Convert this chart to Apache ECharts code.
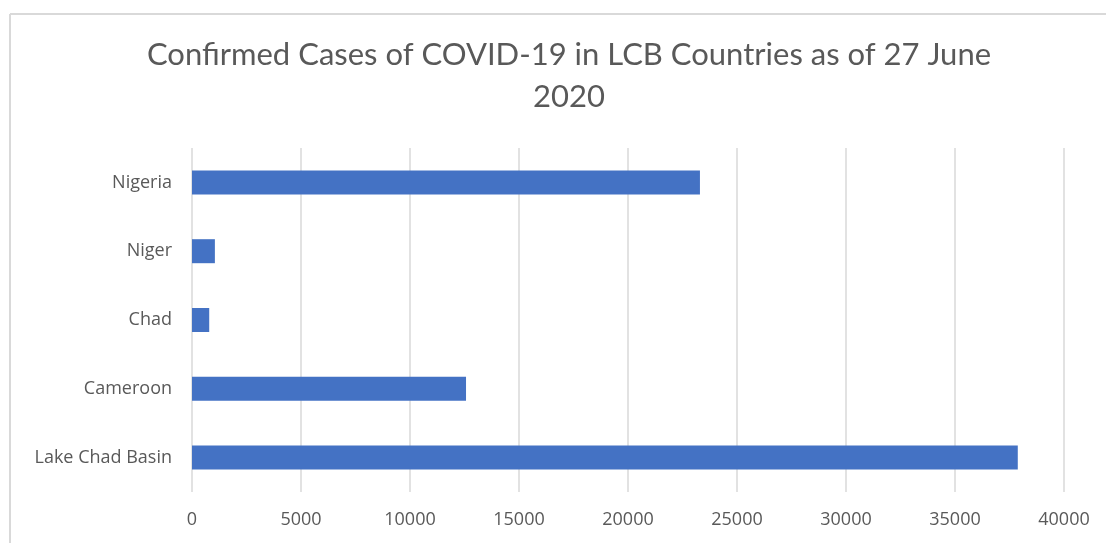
<!DOCTYPE html>
<html>
<head>
<meta charset="utf-8">
<script src="https://cdn.jsdelivr.net/npm/echarts@6/dist/echarts.min.js"></script>
<style>
html,body{margin:0;padding:0;background:#fff;}
#chart{width:1106px;height:543px;}
</style>
</head>
<body>
<div id="chart"></div>
<script>
const titleText = 'Confirmed Cases of COVID-19 in LCB Countries as of 27 June\n2020';
const categories = ['Lake Chad Basin', 'Cameroon', 'Chad', 'Niger', 'Nigeria'];
const cases = [37880, 12570, 790, 1050, 23300];
const xTicks = [0, 5000, 10000, 15000, 20000, 25000, 30000, 35000, 40000];

const chart = echarts.init(document.getElementById('chart'));
chart.setOption({
  animation: false,
  backgroundColor: '#ffffff',
  graphic: [
    {type: 'line', shape: {x1: 10, y1: 14, x2: 1106, y2: 14}, style: {stroke: '#d9d9d9', lineWidth: 2}},
    {type: 'line', shape: {x1: 10, y1: 14, x2: 10, y2: 543}, style: {stroke: '#d9d9d9', lineWidth: 2}}
  ],
  title: {
    text: titleText,
    left: 564,
    textAlign: 'center',
    top: 29,
    textStyle: {
      fontFamily: 'Lato',
      fontWeight: 'normal',
      fontSize: 31,
      color: '#595959',
      lineHeight: 42
    }
  },
  grid: {left: 192, right: 42, top: 148, bottom: 51, containLabel: false},
  xAxis: {
    type: 'value',
    min: xTicks[0],
    max: xTicks[xTicks.length - 1],
    interval: xTicks[1] - xTicks[0],
    axisLine: {show: false},
    axisTick: {show: false},
    splitLine: {lineStyle: {color: '#d9d9d9', width: 1.5}},
    axisLabel: {
      color: '#595959',
      fontSize: 18,
      fontFamily: 'Open Sans',
      margin: 19,
      formatter: v => String(v)
    }
  },
  yAxis: {
    type: 'category',
    data: categories,
    axisLine: {show: false},
    axisTick: {show: false},
    axisLabel: {
      color: '#595959',
      fontSize: 18,
      fontFamily: 'Open Sans',
      margin: 20
    }
  },
  series: [{
    type: 'bar',
    data: cases,
    barWidth: 24,
    itemStyle: {color: '#4472c4'}
  }]
});
</script>
</body>
</html>
